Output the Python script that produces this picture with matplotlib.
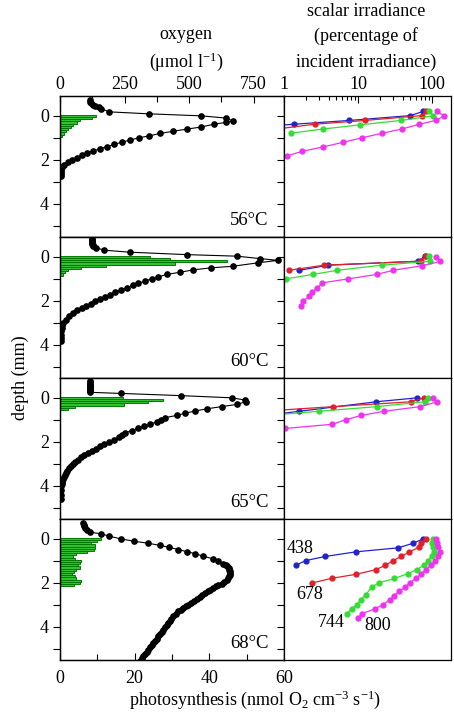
import numpy as np
import matplotlib.pyplot as plt
from matplotlib.ticker import LogLocator, NullFormatter, FixedLocator

plt.rcParams['font.family'] = ['Liberation Serif', 'DejaVu Serif']
plt.rcParams['mathtext.fontset'] = 'custom'
plt.rcParams['mathtext.rm'] = 'Liberation Serif'
plt.rcParams['mathtext.it'] = 'Liberation Serif:italic'
plt.rcParams['font.size'] = 13

#------------------------------------
# Data
#------------------------------------

temps = ['56°C', '60°C', '65°C', '68°C']

# oxygen profiles (umol/l) vs depth (mm)
ox56_d = [-0.72, -0.65, -0.58, -0.5, -0.44, -0.38, -0.32, -0.18, -0.09, 0.0, 0.1, 0.23, 0.3, 0.38,
          0.51, 0.6, 0.7, 0.8, 0.91, 1.0, 1.1, 1.2, 1.3, 1.4, 1.5, 1.6, 1.7, 1.8, 1.9, 2.0,
          2.1, 2.23, 2.33, 2.45, 2.55, 2.65, 2.75]
ox56 = [116, 118, 122, 128, 137, 150, 160, 191, 345, 546, 642, 670, 642, 597,
        546, 493, 439, 388, 345, 305, 271, 239, 209, 181, 155, 127, 103, 84, 65, 45,
        30, 16, 9, 4, 3, 2, 2]

ox60_d = [-0.8, -0.75, -0.7, -0.65, -0.6, -0.55, -0.5, -0.41, -0.3, -0.21, -0.1, -0.03,
          0.08, 0.16, 0.27, 0.43, 0.5, 0.59, 0.7, 0.8, 0.91, 1.0, 1.1, 1.21, 1.3, 1.41,
          1.52, 1.6, 1.71, 1.82, 1.91, 2.02, 2.12, 2.21, 2.32, 2.43, 2.55, 2.7, 2.85, 3.0,
          3.1, 3.23, 3.38, 3.53, 3.7, 3.84]
ox60 = [123, 123, 124, 124, 125, 126, 128, 140, 172, 271, 491, 685,
        775, 845, 768, 669, 585, 517, 465, 413, 381, 355, 329, 303, 281, 258,
        235, 214, 194, 174, 155, 136, 119, 101, 84, 67, 52, 36, 23, 13,
        9, 6, 5, 4, 3, 2]

ox65_d = [-0.75, -0.7, -0.65, -0.6, -0.55, -0.5, -0.45, -0.4, -0.35, -0.3, -0.25, -0.2, -0.1,
          0.0, 0.1, 0.17, 0.3, 0.4, 0.5, 0.6, 0.7, 0.8, 0.9, 1.0, 1.09, 1.2, 1.3, 1.38,
          1.49, 1.59, 1.7, 1.8, 1.9, 2.0, 2.1, 2.2, 2.3, 2.4, 2.5, 2.6, 2.7, 2.8, 2.9,
          3.0, 3.1, 3.2, 3.3, 3.4, 3.5, 3.6, 3.7, 3.8, 3.9, 4.0, 4.2, 4.4, 4.6]
ox65 = [116, 116, 116, 116, 116, 116, 116, 116, 116, 116, 116, 235, 469,
        666, 717, 722, 685, 626, 568, 523, 484, 452, 407, 390, 375, 349, 325, 303,
        278, 252, 240, 228, 210, 188, 172, 155, 138, 124, 108, 93, 80, 68, 58,
        49, 41, 35, 29, 23, 18, 14, 11, 8, 6, 5, 4, 4, 4]

ox68_d = [-0.73, -0.65, -0.57, -0.48, -0.39, -0.3, -0.23, -0.12, 0.0, 0.11, 0.2, 0.3, 0.38,
          0.49, 0.59, 0.67, 0.79, 0.91, 1.02, 1.12, 1.2, 1.25, 1.32, 1.4, 1.48, 1.55, 1.62,
          1.7, 1.78, 1.88, 1.95, 2.03, 2.1, 2.15, 2.22, 2.3, 2.38, 2.45, 2.55, 2.64, 2.74,
          2.84, 2.92, 2.99, 3.06, 3.14, 3.22, 3.29, 3.4, 3.52, 3.62, 3.72, 3.82, 3.92, 4.02,
          4.12, 4.22, 4.32, 4.43, 4.53, 4.63, 4.73, 4.83, 4.93, 5.03, 5.13, 5.23, 5.33,
          5.43, 5.53]
ox68 = [90, 92, 94, 98, 103, 116, 159, 191, 235, 287, 342, 388, 422,
        459, 494, 523, 555, 594, 613, 633, 643, 649, 653, 656, 658, 659, 658,
        656, 652, 646, 636, 626, 614, 604, 592, 581, 572, 562, 552, 543, 531,
        519, 508, 497, 488, 478, 469, 459, 449, 439, 432, 426, 420, 414, 407,
        401, 394, 388, 381, 375, 368, 362, 355, 349, 342, 336, 329, 323,
        317, 311]

# photosynthesis (nmol O2 cm-3 s-1)
ps56_d = [0.0, 0.1, 0.2, 0.3, 0.4, 0.5, 0.6, 0.7, 0.8, 0.9]
ps56 = [9.6, 8.5, 5.4, 4.5, 3.6, 2.9, 2.2, 1.6, 1.1, 0.5]
ps60_d = [0.0, 0.1, 0.2, 0.3, 0.4, 0.5, 0.6, 0.7, 0.8]
ps60 = [24.0, 29.4, 44.6, 30.9, 12.4, 5.5, 2.1, 1.4, 0.8]
ps65_d = [0.0, 0.1, 0.2, 0.3, 0.4, 0.5]
ps65 = [16.8, 27.5, 23.5, 17.1, 4.0, 2.2]
ps68_d = [0.0, 0.1, 0.2, 0.3, 0.4, 0.5, 0.6, 0.7, 0.8, 0.9, 1.0, 1.1, 1.2, 1.3, 1.4, 1.5,
          1.6, 1.7, 1.8, 1.9, 2.0, 2.1]
ps68 = [10.9, 10.0, 8.4, 9.3, 9.5, 9.1, 7.1, 4.4, 3.5, 4.1, 5.5, 5.3, 4.8, 5.3, 4.4, 3.8,
        3.2, 4.1, 4.4, 5.5, 5.3, 3.8]

# scalar irradiance (% of incident) at 438, 678, 744, 800 nm
wavelengths = ['438', '678', '744', '800']

e56_438 = [0.6, 1.38, 7.6, 50.6, 76]
e56_438_d = [0.47, 0.38, 0.21, -0.01, -0.2]
e56_678 = [0.6, 2.62, 12.4, 72, 82]
e56_678_d = [0.65, 0.38, 0.21, -0.01, -0.2]
e56_744 = [1.23, 3.33, 10.6, 38, 104, 92]
e56_744_d = [0.79, 0.6, 0.41, 0.21, 0.0, -0.2]
e56_800 = [1.09, 1.77, 3.4, 6.3, 11.2, 21.3, 39, 66, 112, 146, 116]
e56_800_d = [1.82, 1.61, 1.41, 1.2, 1.0, 0.79, 0.6, 0.39, 0.21, 0.0, -0.2]

e60_438 = [1.61, 3.97, 64, 80]
e60_438_d = [0.61, 0.38, 0.2, -0.03]
e60_678 = [1.17, 3.47, 70, 82]
e60_678_d = [0.61, 0.38, 0.2, -0.03]
e60_744 = [1.06, 2.44, 5.25, 20.9, 94, 91]
e60_744_d = [1.0, 0.8, 0.61, 0.38, 0.2, -0.03]
e60_800 = [1.68, 1.79, 2.2, 2.37, 2.82, 3.3, 7.4, 17.8, 30, 74, 129, 113]
e60_800_d = [2.21, 2.02, 1.79, 1.59, 1.41, 1.18, 1.0, 0.8, 0.61, 0.4, 0.21, 0.0]

e65_438 = [0.7, 1.61, 17.5, 63]
e65_438_d = [0.76, 0.61, 0.18, 0.0]
e65_678 = [0.7, 4.64, 51.5, 78]
e65_678_d = [0.58, 0.4, 0.18, 0.0]
e65_744 = [0.7, 2.97, 17.8, 80, 87]
e65_744_d = [0.78, 0.61, 0.4, 0.18, 0.0]
e65_800 = [1.03, 4.5, 6.9, 11, 22.6, 69, 118, 104]
e65_800_d = [1.39, 1.2, 0.99, 0.8, 0.61, 0.4, 0.18, 0.0]

e68_438 = [1.44, 1.96, 3.6, 9.4, 34.6, 55.6, 76]
e68_438_d = [1.2, 0.99, 0.8, 0.59, 0.41, 0.2, 0.0]
e68_678 = [2.41, 4.45, 9.4, 17.4, 23.4, 30, 38, 48.5, 66, 71, 83]
e68_678_d = [2.0, 1.79, 1.61, 1.4, 1.2, 0.99, 0.8, 0.61, 0.38, 0.18, 0.0]
e68_744 = [7.1, 8.2, 9.6, 11.0, 12.8, 15.3, 19.2, 31, 47, 62, 78, 89, 99, 106, 104, 101, 104]
e68_744_d = [3.4, 3.18, 2.99, 2.76, 2.53, 2.18, 2.0, 1.8, 1.58, 1.4, 1.2, 0.99, 0.79, 0.59,
             0.38, 0.18, 0.0]
e68_800 = [10.1, 11.2, 16.9, 21.5, 27, 30.6, 36, 43, 50, 60, 70, 82, 96, 110, 122, 126, 122,
           117, 113]
e68_800_d = [3.59, 3.4, 3.18, 2.99, 2.76, 2.58, 2.38, 2.2, 2.0, 1.8, 1.61, 1.4, 1.2, 0.99,
             0.79, 0.59, 0.38, 0.18, 0.0]

# label positions for the wavelength tags (last panel)
tag_x = [1.65, 2.25, 4.32, 18.3]
tag_d = [0.44, 2.53, 3.82, 3.94]

ox_all = [(ox56, ox56_d), (ox60, ox60_d), (ox65, ox65_d), (ox68, ox68_d)]
ps_all = [(ps56, ps56_d), (ps60, ps60_d), (ps65, ps65_d), (ps68, ps68_d)]
irr_all = [
    [(e56_438, e56_438_d), (e56_678, e56_678_d), (e56_744, e56_744_d), (e56_800, e56_800_d)],
    [(e60_438, e60_438_d), (e60_678, e60_678_d), (e60_744, e60_744_d), (e60_800, e60_800_d)],
    [(e65_438, e65_438_d), (e65_678, e65_678_d), (e65_744, e65_744_d), (e65_800, e65_800_d)],
    [(e68_438, e68_438_d), (e68_678, e68_678_d), (e68_744, e68_744_d), (e68_800, e68_800_d)],
]
colors = ['#2222cc', '#e0202a', '#33dd33', '#ee33ee']

#------------------------------------
# Figure
#------------------------------------

W, H = 454, 716
fig = plt.figure(figsize=(W / 100, H / 100), dpi=100)

top_px = 96
panel_h = 141

for i in range(4):
    bottom = 1 - (top_px + panel_h * (i + 1)) / H
    h = panel_h / H
    axl = fig.add_axes([60 / W, bottom, 224 / W, h])
    axo = axl.twiny()
    axr = fig.add_axes([284 / W, bottom, 167 / W, h])

    # photosynthesis bars
    ps, ps_d = ps_all[i]
    axl.barh(ps_d, ps, height=0.1, color='#30c030', edgecolor='#007a00', linewidth=0.7)
    axl.set_xlim(0, 60)
    axl.set_ylim(5.5, -0.9)
    axl.set_yticks([0, 1, 2, 3, 4, 5])
    axl.set_yticklabels(['0', '', '2', '', '4', ''])
    axl.tick_params(axis='y', direction='out', length=5, width=0.8, pad=3)
    if i == 3:
        axl.set_xticks([0, 20, 40, 60])
        axl.xaxis.set_minor_locator(FixedLocator([10, 30, 50]))
        axl.tick_params(axis='x', which='major', direction='in', length=5, width=0.8, pad=7)
        axl.tick_params(axis='x', which='minor', direction='in', length=4, width=0.8)
    else:
        axl.tick_params(axis='x', bottom=False, labelbottom=False)

    # oxygen profile
    ox, ox_d = ox_all[i]
    axo.plot(ox, ox_d, '-o', color='black', lw=0.8, ms=3.8)
    axo.set_xlim(0, 868)
    if i == 0:
        axo.set_xticks([0, 250, 500, 750])
        axo.xaxis.set_minor_locator(FixedLocator([125, 375, 625]))
        axo.tick_params(axis='x', which='major', direction='in', length=5, width=0.8, pad=2)
        axo.tick_params(axis='x', which='minor', direction='in', length=4, width=0.8)
    else:
        axo.tick_params(axis='x', which='both', top=False, labeltop=False)

    axl.text(0.93, 0.115, temps[i], transform=axl.transAxes, ha='right', va='center',
             fontsize=13.5)

    # scalar irradiance
    for (vals, dep), c in zip(irr_all[i], colors):
        axr.plot(vals, dep, '-o', color=c, lw=0.9, ms=3.5)
    axr.set_xscale('log')
    axr.set_xlim(1, 180)
    axr.set_ylim(5.5, -0.9)
    axr.set_yticks([0, 1, 2, 3, 4, 5])
    axr.tick_params(axis='y', direction='out', length=5, width=0.8, labelleft=False)
    if i == 0:
        axr.xaxis.tick_top()
        axr.set_xticks([1, 10, 100])
        axr.set_xticklabels(['1', '10', '100'])
        axr.xaxis.set_minor_locator(LogLocator(base=10, subs=range(2, 10)))
        axr.xaxis.set_minor_formatter(NullFormatter())
        axr.tick_params(axis='x', which='major', direction='in', length=5, width=0.8, pad=2)
        axr.tick_params(axis='x', which='minor', direction='in', length=3, width=0.8)
    else:
        axr.tick_params(axis='x', which='both', bottom=False, top=False,
                        labelbottom=False, labeltop=False)
        axr.xaxis.set_minor_formatter(NullFormatter())

    if i == 3:
        for lab, tx, td in zip(wavelengths, tag_x, tag_d):
            axr.text(tx, td, lab, ha='center', va='center', fontsize=13)

    for a in (axl, axo, axr):
        for s in a.spines.values():
            s.set_linewidth(0.9)

# titles and axis labels
fig.text(186 / W, 1 - 39 / H, 'oxygen', ha='center', va='baseline')
fig.text(186 / W, 1 - 67 / H, '(μmol l$^{-1}$)', ha='center', va='baseline')
fig.text(366 / W, 1 - 16 / H, 'scalar irradiance', ha='center', va='baseline')
fig.text(366 / W, 1 - 41 / H, '(percentage of', ha='center', va='baseline')
fig.text(366 / W, 1 - 67 / H, 'incident irradiance)', ha='center', va='baseline')
fig.text(20 / W, 1 - 378 / H, 'depth (mm)', rotation=90, ha='center', va='center')
fig.text(255 / W, 1 - 705 / H, 'photosynthesis (nmol O$_2$ cm$^{-3}$ s$^{-1}$)',
         ha='center', va='baseline')

fig.savefig('out.png', dpi=100)
